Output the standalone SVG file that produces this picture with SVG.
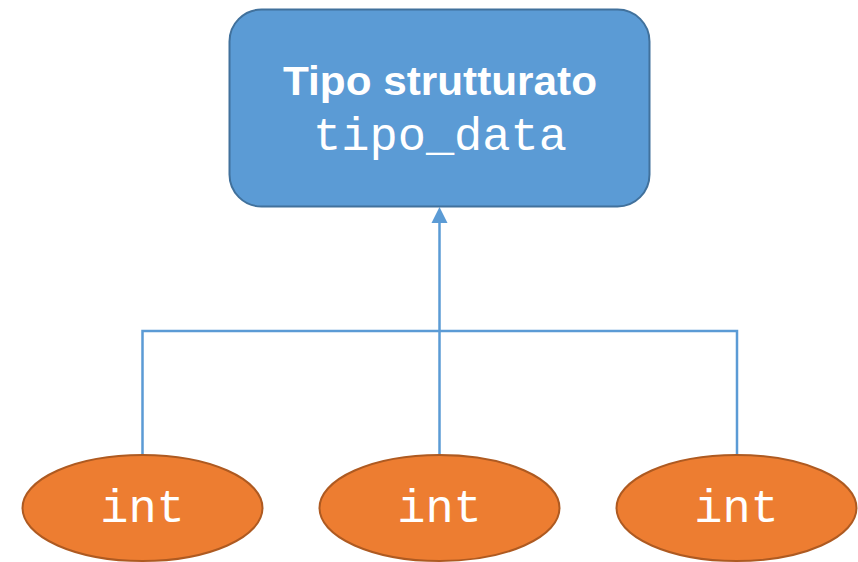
<svg xmlns="http://www.w3.org/2000/svg" width="858" height="562" viewBox="0 0 858 562">
<style>
.conn{fill:none;stroke:#5B9BD5;stroke-width:2.5}
.ell{fill:#ED7D31;stroke:#AE5A21;stroke-width:2}
.mono{font-family:"Liberation Mono","Courier New",monospace;font-size:47px;fill:#fff;text-anchor:middle}
.title{font-family:"Liberation Sans",Arial,sans-serif;font-weight:bold;font-size:41px;fill:#fff;text-anchor:middle}
</style>
<g id="connectors">
<polyline class="conn" points="142.5,455 142.5,331 737,331 737,455"/>
<line class="conn" x1="439.5" y1="455" x2="439.5" y2="222"/>
<polygon points="439.5,207 431.5,223 447.5,223" fill="#5B9BD5"/>
</g>
<g id="node-tipo">
<rect x="229.5" y="9.5" width="420" height="197" rx="32" ry="32" fill="#5B9BD5" stroke="#41719C" stroke-width="2"/>
<text class="title" x="440" y="95" textLength="314" lengthAdjust="spacingAndGlyphs">Tipo strutturato</text>
<text class="mono" x="440" y="150">tipo_data</text>
</g>
<g id="node-int1">
<ellipse class="ell" cx="142.5" cy="508" rx="120" ry="53"/>
<text class="mono" x="142.5" y="522">int</text>
</g>
<g id="node-int2">
<ellipse class="ell" cx="439.5" cy="508" rx="120" ry="53"/>
<text class="mono" x="439.5" y="522">int</text>
</g>
<g id="node-int3">
<ellipse class="ell" cx="736.5" cy="508" rx="120" ry="53"/>
<text class="mono" x="736.5" y="522">int</text>
</g>
</svg>
